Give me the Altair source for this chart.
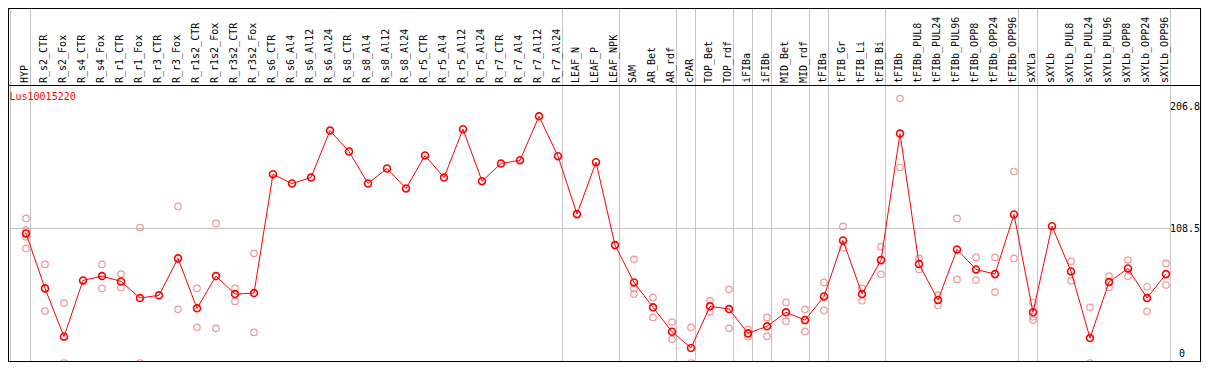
import altair as alt
import pandas as pd

gene = "Lus10015220"

samples = [
    "HYP", "R_s2_CTR", "R_s2_Fox", "R_s4_CTR", "R_s4_Fox", "R_r1_CTR", "R_r1_Fox",
    "R_r3_CTR", "R_r3_Fox", "R_r1s2_CTR", "R_r1s2_Fox", "R_r3s2_CTR", "R_r3s2_Fox",
    "R_s6_CTR", "R_s6_Al4", "R_s6_Al12", "R_s6_Al24", "R_s8_CTR", "R_s8_Al4",
    "R_s8_Al12", "R_s8_Al24", "R_r5_CTR", "R_r5_Al4", "R_r5_Al12", "R_r5_Al24",
    "R_r7_CTR", "R_r7_Al4", "R_r7_Al12", "R_r7_Al24", "LEAF_N", "LEAF_P", "LEAF_NPK",
    "SAM", "AR_Bet", "AR_rdf", "cPAR", "TOP_Bet", "TOP_rdf", "iFIBa", "iFIBb",
    "MID_Bet", "MID_rdf", "tFIBa", "tFIB_Gr", "tFIB_Li", "tFIB_Bi", "tFIBb",
    "tFIBb_PUL8", "tFIBb_PUL24", "tFIBb_PUL96", "tFIBb_OPP8", "tFIBb_OPP24",
    "tFIBb_OPP96", "sXYLa", "sXYLb", "sXYLb_PUL8", "sXYLb_PUL24", "sXYLb_PUL96",
    "sXYLb_OPP8", "sXYLb_OPP24", "sXYLb_OPP96",
]

means = [
    104.5, 60.2, 21.2, 66.6, 70.1, 65.8, 52.4, 54.6, 84.4, 44.1, 70.1, 55.6, 56.4,
    152.3, 144.8, 149.6, 187.5, 170.6, 144.8, 156.9, 140.8, 167.4, 149.6, 188.6,
    146.7, 160.9, 163.6, 199.0, 166.8, 120.1, 162.0, 95.1,
    65.0, 44.9, 25.2, 12.1, 45.7, 43.5, 23.9, 29.6, 40.9, 34.6, 53.7, 98.9, 55.6, 83.0,
    185.1, 79.8, 50.8, 91.6, 75.5, 71.7, 119.8, 40.9, 110.4, 73.9, 20.1, 65.3, 76.3,
    52.4, 71.7,
]

replicates = [
    [116.6, 107.2, 101.8, 92.4], [79.5, 41.9], [48.3, 0], [], [79.5, 60.2],
    [71.7, 61.0], [109.3, 0], [], [126.3, 43.3], [60.2, 28.8], [112.6, 28.0],
    [60.2, 49.7], [88.4, 24.7],
    [], [], [], [], [], [], [], [], [], [], [], [], [], [], [], [],
    [], [], [],
    [83.6, 60.2, 55.6], [52.9, 36.8], [33.0, 19.1], [28.8, 0], [50.2, 41.3],
    [59.4, 28.0], [27.2, 21.2], [36.8, 21.5], [48.9, 33.6], [43.3, 25.5],
    [65.0, 42.5], [110.2, 92.9], [60.2, 50.2], [93.7, 71.5],
    [213.3, 157.7], [84.4, 75.5], [54.8, 46.5], [116.6, 67.4], [85.2, 66.9],
    [85.2, 57.2], [154.5, 84.4], [48.6, 37.3, 34.6], [], [82.0, 66.3], [44.9, 0],
    [70.1, 61.0], [83.0, 69.9], [61.5, 41.7], [80.3, 62.9],
]

group_sizes = [1, 28, 3, 3, 1, 2, 1, 1, 2, 1, 3, 7, 1, 7]
tick_values = [108.5, 206.8]
zero_tick = [0]

# ---- styling / layout ----
W, H = 1193, 354
FONT = "DejaVu Sans Mono"
RED = "#ff0000"
REP = "#f09696"
GRID = "#c4c4c4"

n = len(samples)
xs = alt.Scale(domain=[0, n - 1], range=[18, 18 + 19 * (n - 1)])
ys = alt.Scale(domain=[0, 206.8], range=[355, 98.65])

df = pd.DataFrame({"idx": list(range(n)), "sample": samples, "mean": means})
rep_df = pd.DataFrame(
    [{"idx": i, "value": v} for i, vals in enumerate(replicates) for v in vals]
)

bounds = [-0.816]
end = -1
for g in group_sizes:
    end += g
    bounds.append(end + 0.2368)
bound_df = pd.DataFrame({"pos": bounds})

vgrid = alt.Chart(bound_df).mark_rule(color=GRID, strokeWidth=1).encode(
    x=alt.X("pos:Q", scale=xs, axis=None),
    y=alt.value(0),
    y2=alt.value(H),
)

hgrid = alt.Chart(pd.DataFrame({"v": [tick_values[0]]})).mark_rule(
    color=GRID, strokeWidth=1
).encode(
    y=alt.Y("v:Q", scale=ys, axis=None),
    x=alt.value(0),
    x2=alt.value(1162.5),
)

frame = alt.Chart(pd.DataFrame({"a": [0]})).mark_rule(color="black", strokeWidth=1)
header_line = frame.encode(x=alt.value(0), x2=alt.value(W), y=alt.value(77.5))
top_line = frame.encode(x=alt.value(0), x2=alt.value(W), y=alt.value(0.5))
bottom_line = frame.encode(x=alt.value(0), x2=alt.value(W), y=alt.value(H - 0.5))
left_line = frame.encode(x=alt.value(0.5), y=alt.value(0), y2=alt.value(H))
right_line = frame.encode(x=alt.value(W - 0.5), y=alt.value(0), y2=alt.value(H))

reps = alt.Chart(rep_df).mark_point(
    shape="circle", filled=False, color=REP, strokeWidth=1.2, size=42, opacity=1
).encode(
    x=alt.X("idx:Q", scale=xs, axis=None),
    y=alt.Y("value:Q", scale=ys, axis=None),
)

line = alt.Chart(df).mark_line(color=RED, strokeWidth=1).encode(
    x=alt.X("idx:Q", scale=xs, axis=None),
    y=alt.Y("mean:Q", scale=ys, axis=None),
)

pts = alt.Chart(df).mark_point(
    shape="circle", filled=False, color=RED, strokeWidth=1.6, size=48, opacity=1
).encode(
    x=alt.X("idx:Q", scale=xs, axis=None),
    y=alt.Y("mean:Q", scale=ys, axis=None),
)

labels = alt.Chart(df).mark_text(
    angle=270, align="left", baseline="middle", font=FONT, fontSize=10,
    color="black", dy=-1,
).encode(
    x=alt.X("idx:Q", scale=xs, axis=None),
    y=alt.value(75),
    text="sample:N",
)

title = alt.Chart(pd.DataFrame({"t": [gene]})).mark_text(
    align="left", baseline="middle", font=FONT, fontSize=10, color=RED
).encode(x=alt.value(1.5), y=alt.value(89), text="t:N")

ticks = alt.Chart(pd.DataFrame({"v": tick_values})).mark_text(
    align="right", baseline="middle", font=FONT, fontSize=10, color="black"
).encode(
    y=alt.Y("v:Q", scale=ys, axis=None),
    x=alt.value(W - 1),
    text=alt.Text("v:Q", format=".1f"),
)

zero = alt.Chart(pd.DataFrame({"v": zero_tick})).mark_text(
    align="left", baseline="middle", font=FONT, fontSize=10, color="black", dy=-9
).encode(
    y=alt.Y("v:Q", scale=ys, axis=None),
    x=alt.value(1171),
    text=alt.Text("v:Q", format="d"),
)

chart = alt.layer(
    vgrid, hgrid, reps, line, pts, labels, title, ticks, zero,
    header_line, top_line, bottom_line, left_line, right_line,
).properties(
    width=W, height=H, autosize=alt.AutoSizeParams(type="none"), padding=0,
    background="white",
).configure_view(stroke=None)

chart.save("out.html", embed_options={"renderer": "svg", "actions": False})
